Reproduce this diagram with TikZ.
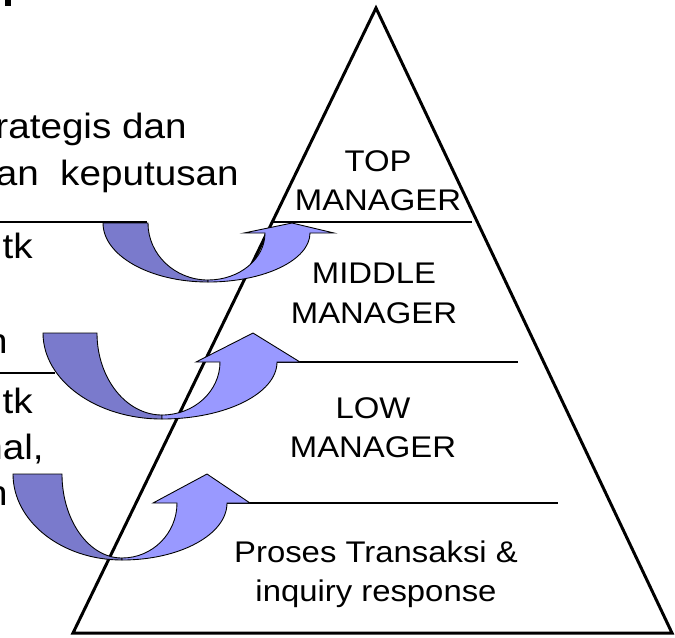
\documentclass[tikz,border=0pt]{standalone}
\usepackage{fontspec}
\setmainfont[FakeStretch=1.1]{Liberation Sans}
\definecolor{arrowdark}{RGB}{122,122,204}
\definecolor{arrowlight}{RGB}{153,153,255}
\tikzset{
  level/.style={font=\fontsize{17}{22.4}\selectfont, align=center, inner sep=0pt, anchor=north},
  side/.style={font=\fontsize{20}{26.6}\selectfont, inner sep=0pt, anchor=base east},
  back/.style={fill=arrowdark, draw=black, line width=0.5pt},
  front/.style={fill=arrowlight, draw=black, line width=0.5pt},
  pyramid/.style={line width=1.7pt, line join=miter},
  rule/.style={line width=0.6pt}
}
\begin{document}
\begin{tikzpicture}[x=0.02cm, y=-0.02cm]
        \useasboundingbox (0, 0) rectangle (675, 637);
        \fill (5, 0) rectangle (11, 6);
        \draw [pyramid] (376, 8) -- (672, 633) -- (73, 633) -- cycle;
        \draw [rule] (272, 222) -- (472, 222);
        \draw [rule] (250, 362) -- (518, 362);
        \draw [rule] (200, 503) -- (558, 503);
        \draw [rule] (0, 222) -- (147, 222);
        \draw [rule] (0, 373) -- (55, 373);
        \draw [back] (103, 223) -- (148, 223) .. controls (148, 254.5) and (174.9, 280) .. (208, 280)
              -- (208, 282) .. controls (150, 282) and (103, 255.6) .. (103, 223) -- cycle;
        \draw [front] (208, 280) .. controls (239.5, 280) and (265, 258.9) .. (265, 233)
              -- (244, 233) -- (292, 223) -- (334, 233) -- (310, 233)
              .. controls (310, 260) and (264.3, 282) .. (208, 282) -- cycle;
        \draw [back] (43, 333) -- (97, 333) .. controls (97, 378.3) and (126.1, 415) .. (162, 415)
              -- (162, 419) .. controls (96.3, 419) and (43, 380.5) .. (43, 333) -- cycle;
        \draw [front] (162, 415) .. controls (194, 415) and (220, 391.3) .. (220, 362)
              -- (196, 362) -- (253, 333) -- (300, 362) -- (277, 362)
              .. controls (277, 393.5) and (225.5, 419) .. (162, 419) -- cycle;
        \draw [back] (13, 474) -- (62, 474) .. controls (62, 520.4) and (88.9, 558) .. (122, 558)
              -- (122, 560) .. controls (61.8, 560) and (13, 521.5) .. (13, 474) -- cycle;
        \draw [front] (122, 558) .. controls (152.4, 558) and (177, 533.4) .. (177, 503)
              -- (153, 503) -- (207, 474) -- (250, 503) -- (227, 503)
              .. controls (227, 534.5) and (180, 560) .. (122, 560) -- cycle;
        \node [level] (topmgr) at (378, 150) {TOP\\MANAGER};
        \node [level] (midmgr) at (374, 263) {MIDDLE\\MANAGER};
        \node [level] (lowmgr) at (373, 397) {LOW\\MANAGER};
        \node [level] (trans) at (376, 540) {Proses Transaksi \&\\inquiry response};
        \node [side] (strat) at (187, 138) {rategis dan};
        \node [side] (keput) at (239, 185) {an~ keputusan};
        \node [side] (utka) at (33, 258) {utk};
        \node [side] (enda) at (8, 353) {n};
        \node [side] (utkb) at (33, 413) {utk};
        \node [side] (nal) at (44, 459) {nal,};
        \node [side] (endb) at (8, 505) {n};
      \end{tikzpicture}
\end{document}
